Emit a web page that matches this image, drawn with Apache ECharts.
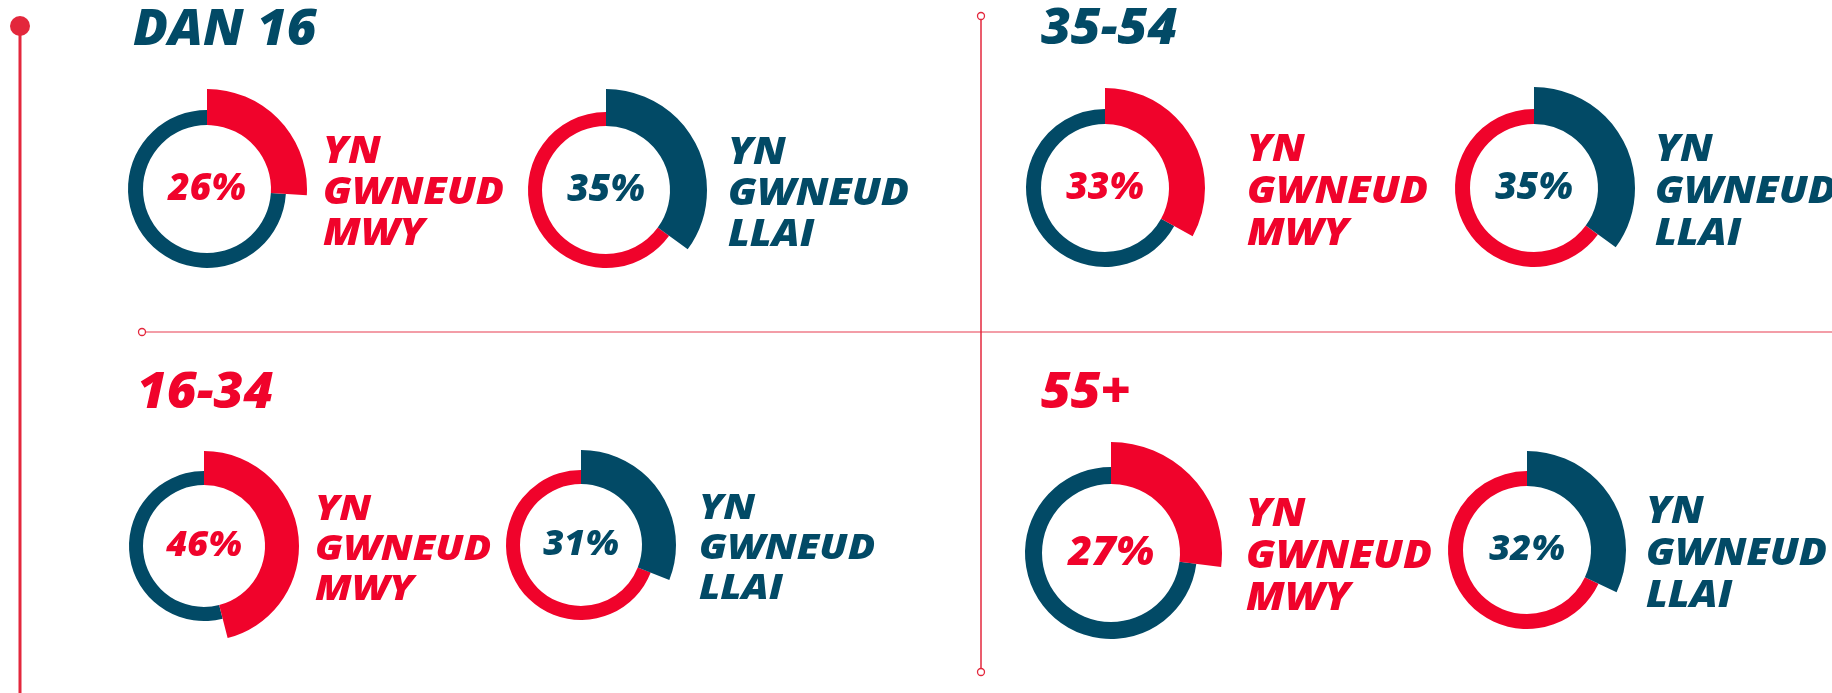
<!DOCTYPE html>
<html>
<head>
<meta charset="utf-8">
<script src="https://cdn.jsdelivr.net/npm/echarts@6/dist/echarts.min.js"></script>
<style>
  html, body { margin: 0; padding: 0; background: #fff; }
  #chart { width: 1832px; height: 693px; }
</style>
</head>
<body>
<div id="chart"></div>
<script>
// age groups and the share who do more / less
const groups = ['DAN 16', '35-54', '16-34', '55+']
const morePct = [26, 33, 46, 27]
const lessPct = [35, 35, 31, 32]
const moreLabel = ['YN', 'GWNEUD', 'MWY']
const lessLabel = ['YN', 'GWNEUD', 'LLAI']

const RED = '#F0032B'
const NAVY = '#024A66'
const LINE = '#E3273C'
const FONT = '"Open Sans", Lato, sans-serif'

// layout per panel: [centerX, centerY, inner, ring, segment, pctSize, labelX, labelSize, lineGap]
const titleColor = [NAVY, NAVY, RED, RED]
const titlePos = [[133, 31], [1041, 30], [137, 394], [1041, 394]]
const moreLayout = [
  [207, 189, 64, 79, 100, 37, 323, 37, 41],
  [1105, 188, 64, 79, 100, 37, 1247, 37, 42],
  [204, 546, 61, 75, 95, 36, 315, 36, 40],
  [1111, 553, 69, 86, 111, 41, 1246, 38, 42],
]
const lessLayout = [
  [606, 190, 64, 78, 101, 37, 728, 37, 41],
  [1534, 188, 64, 79, 101, 37, 1655, 37, 42],
  [581, 545, 61, 75, 95, 36, 699, 36, 40],
  [1527, 550, 64, 79, 99, 36, 1646, 37, 42],
]

const chart = echarts.init(document.getElementById('chart'), null, { renderer: 'canvas' })

function donut(value, layout, mainColor, baseColor) {
  const [cx, cy, rIn, rRing, rSeg, pctSize] = layout
  const common = {
    type: 'pie',
    center: [cx, cy],
    startAngle: 90,
    clockwise: true,
    silent: true,
    animation: false,
    labelLine: { show: false },
    emphasis: { disabled: true },
  }
  return [
    {
      ...common,
      radius: [rIn, rRing],
      label: { show: false },
      data: [
        { value, itemStyle: { color: 'rgba(0,0,0,0)' } },
        { value: 100 - value, itemStyle: { color: baseColor } },
      ],
    },
    {
      ...common,
      radius: [rIn, rSeg],
      data: [
        {
          value,
          itemStyle: { color: mainColor },
          label: {
            show: true,
            position: 'center',
            formatter: '{c}%',
            color: mainColor,
            fontFamily: FONT,
            fontWeight: 800,
            fontStyle: 'italic',
            fontSize: pctSize,
          },
        },
        { value: 100 - value, itemStyle: { color: 'rgba(0,0,0,0)' }, label: { show: false } },
      ],
    },
  ]
}

function sideText(lines, layout, color) {
  const [, cy, , , , , lx, size, gap] = layout
  return {
    type: 'text',
    x: lx,
    y: cy + 4,
    scaleX: 1.12,
    silent: true,
    style: {
      text: lines.join('\n'),
      fill: color,
      font: `italic 800 ${size}px ${FONT}`,
      lineHeight: gap,
      textVerticalAlign: 'middle',
    },
  }
}

const series = []
const graphic = []
groups.forEach((name, i) => {
  series.push(...donut(morePct[i], moreLayout[i], RED, NAVY))
  series.push(...donut(lessPct[i], lessLayout[i], NAVY, RED))
  graphic.push({
    type: 'text',
    x: titlePos[i][0],
    y: titlePos[i][1],
    scaleX: 1.05,
    silent: true,
    style: {
      text: name,
      fill: titleColor[i],
      font: `italic 800 49px ${FONT}`,
      textVerticalAlign: 'middle',
    },
  })
  graphic.push(sideText(moreLabel, moreLayout[i], RED))
  graphic.push(sideText(lessLabel, lessLayout[i], NAVY))
})

// timeline and dividers
graphic.push(
  { type: 'line', silent: true, shape: { x1: 20, y1: 26, x2: 20, y2: 693 }, style: { stroke: LINE, lineWidth: 3 } },
  { type: 'circle', silent: true, shape: { cx: 20, cy: 26, r: 10 }, style: { fill: LINE } },
  { type: 'line', silent: true, shape: { x1: 146, y1: 332, x2: 1832, y2: 332 }, style: { stroke: '#EF7D8A', lineWidth: 1.5 } },
  { type: 'line', silent: true, shape: { x1: 981, y1: 20, x2: 981, y2: 668 }, style: { stroke: LINE, lineWidth: 1.5 } },
  { type: 'circle', silent: true, shape: { cx: 142, cy: 332, r: 3.5 }, style: { fill: '#fff', stroke: LINE, lineWidth: 1.3 } },
  { type: 'circle', silent: true, shape: { cx: 981, cy: 16, r: 3.5 }, style: { fill: '#fff', stroke: LINE, lineWidth: 1.3 } },
  { type: 'circle', silent: true, shape: { cx: 981, cy: 672, r: 3.5 }, style: { fill: '#fff', stroke: LINE, lineWidth: 1.3 } },
)

chart.setOption({
  animation: false,
  backgroundColor: '#fff',
  series,
  graphic,
})
</script>
</body>
</html>
